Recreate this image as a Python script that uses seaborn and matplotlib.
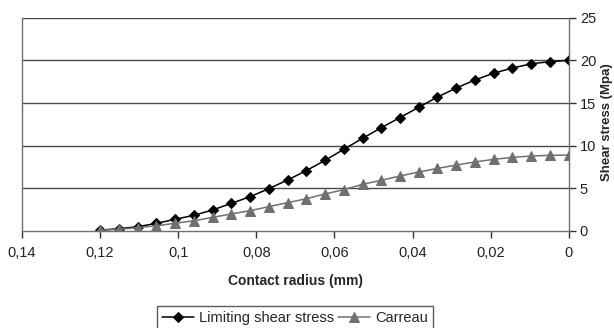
import numpy as np
import pandas as pd
import matplotlib
matplotlib.use("Agg")
import matplotlib.pyplot as plt
import seaborn as sns

radius = [0.12, 0.1152, 0.1104, 0.1056, 0.1008, 0.096, 0.0912, 0.0864, 0.0816, 0.0768,
          0.072, 0.0672, 0.0624, 0.0576, 0.0528, 0.048, 0.0432, 0.0384, 0.0336, 0.0288,
          0.024, 0.0192, 0.0144, 0.0096, 0.0048, 0.0]
limiting = [0.1, 0.27, 0.5, 0.9, 1.37, 1.84, 2.46, 3.24, 4.02, 4.96,
            5.98, 7.07, 8.28, 9.57, 10.86, 12.1, 13.3, 14.5, 15.7, 16.76,
            17.7, 18.5, 19.1, 19.6, 19.85, 20.0]
carreau = [0.1, 0.2, 0.4, 0.62, 0.9, 1.2, 1.6, 2.0, 2.38, 2.85,
           3.32, 3.78, 4.34, 4.84, 5.47, 5.94, 6.45, 6.91, 7.34, 7.73,
           8.09, 8.4, 8.63, 8.79, 8.87, 8.9]
x_ticks = [0.14, 0.12, 0.1, 0.08, 0.06, 0.04, 0.02, 0.0]
x_tick_labels = ["0,14", "0,12", "0,1", "0,08", "0,06", "0,04", "0,02", "0"]
y_ticks = [0, 5, 10, 15, 20, 25]

sns.set_theme(style="white")
plt.rcParams["font.family"] = ["Liberation Sans", "DejaVu Sans"]

df = pd.DataFrame({"radius": radius, "Limiting shear stress": limiting, "Carreau": carreau})

fig = plt.figure(figsize=(6.14, 3.28), dpi=100)
ax = fig.add_axes([22 / 614, 1 - 231 / 328, (568.7 - 22) / 614, (231 - 17.7) / 328])

sns.lineplot(data=df, x="radius", y="Limiting shear stress", ax=ax, color="black",
             marker="D", markersize=5.5, markeredgecolor="black", linewidth=1.1,
             label="Limiting shear stress")
sns.lineplot(data=df, x="radius", y="Carreau", ax=ax, color="#707070",
             marker="^", markersize=7, markeredgecolor="#707070", linewidth=1.1,
             label="Carreau")

ax.set_xlim(0.14, 0.0)
ax.set_ylim(0, 25)
ax.set_xticks(x_ticks)
ax.set_xticklabels(x_tick_labels)
ax.set_yticks(y_ticks)
ax.yaxis.tick_right()
ax.yaxis.set_label_position("right")
for y in y_ticks[1:]:
    ax.axhline(y, color="#4a4a4a", linewidth=1.0, zorder=0)

ax.tick_params(axis="both", which="major", labelsize=10.5, colors="#333333",
               direction="out", length=5, width=1, labelcolor="#222222",
               bottom=True, right=True, left=False)
ax.tick_params(axis="x", pad=6)
ax.tick_params(axis="y", pad=3)

for side in ["left", "right", "bottom"]:
    ax.spines[side].set_visible(True)
    ax.spines[side].set_color("#707070")
    ax.spines[side].set_linewidth(1.0)
ax.spines["top"].set_visible(False)

ax.set_xlabel("Contact radius (mm)", fontsize=10, fontweight="bold", labelpad=10)
ax.set_ylabel("Shear stress (Mpa)", fontsize=9.5, fontweight="bold")
ax.yaxis.set_label_coords((601 - 22) / 546.7, 0.51)

ax.get_legend().remove()
handles, labels = ax.get_legend_handles_labels()
leg = fig.legend(handles, labels, loc="center", bbox_to_anchor=(295 / 614, 1 - 318 / 328),
                 ncol=2, frameon=True, fancybox=False, edgecolor="#333333",
                 fontsize=10.5, handlelength=2.2, handletextpad=0.3, columnspacing=0.3,
                 borderpad=0.35, borderaxespad=0)
leg.get_frame().set_linewidth(1.0)

fig.savefig("out.png", dpi=100)
